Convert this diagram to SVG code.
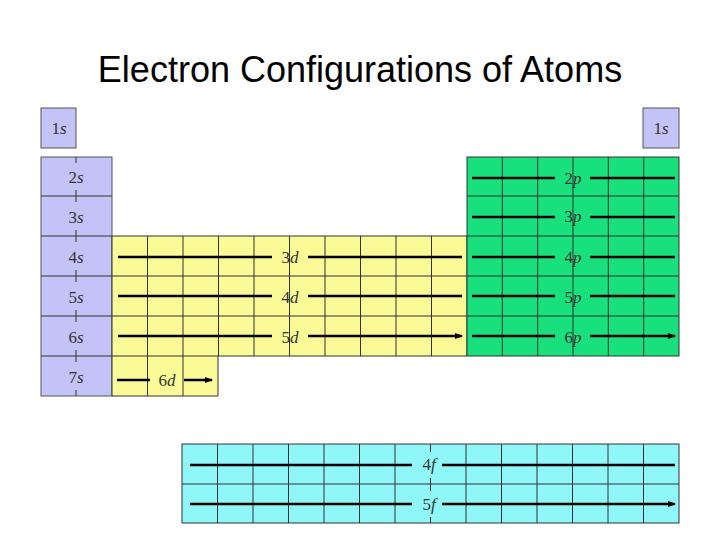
<svg xmlns="http://www.w3.org/2000/svg" width="720" height="540" viewBox="0 0 720 540">
<style>
.s{fill:#c3c3f7;stroke:#555;stroke-width:1}
.d{fill:#fafa96;stroke:#333;stroke-width:1}
.p{fill:#18e07c;stroke:#333;stroke-width:1}
.f{fill:#8ff7f7;stroke:#333;stroke-width:1}
.g{stroke:#333;stroke-width:1;fill:none}
.lb{font-family:"Liberation Serif",serif;font-size:17px;fill:#333;text-anchor:middle}
.ar{stroke:#000;stroke-width:2.5;fill:none;marker-end:url(#ah)}
.tk{stroke:#333;stroke-width:1}
</style>
<defs><marker id="ah" markerWidth="8" markerHeight="6" refX="7" refY="3" orient="auto" markerUnits="userSpaceOnUse"><path d="M0,0 L8,3 L0,6 Z" fill="#000"/></marker></defs>
<rect width="720" height="540" fill="#fff"/>
<text x="360" y="82" font-family="Liberation Sans, Arial, sans-serif" font-size="36" text-anchor="middle" fill="#000">Electron Configurations of Atoms</text>
<g id="s-block">
<rect class="s" x="41" y="108" width="35" height="40"/>
<rect class="s" x="643" y="108" width="36" height="40"/>
<rect class="s" x="41" y="157" width="71" height="239"/>
<path class="g" d="M41 196H112M41 236H112M41 276H112M41 316H112M41 356H112"/>
<path class="tk" d="M76 157v6M76 190v12M76 230v12M76 270v12M76 310v12M76 350v12M76 390v6"/>
<text class="lb" x="59" y="134">1<tspan font-style="italic">s</tspan></text>
<text class="lb" x="661" y="134">1<tspan font-style="italic">s</tspan></text>
<text class="lb" x="76" y="183">2<tspan font-style="italic">s</tspan></text>
<text class="lb" x="76" y="223">3<tspan font-style="italic">s</tspan></text>
<text class="lb" x="76" y="263">4<tspan font-style="italic">s</tspan></text>
<text class="lb" x="76" y="303">5<tspan font-style="italic">s</tspan></text>
<text class="lb" x="76" y="343">6<tspan font-style="italic">s</tspan></text>
<text class="lb" x="76" y="383">7<tspan font-style="italic">s</tspan></text>
</g>
<g id="d-block">
<path class="d" d="M112 236H467V356H218V396H112Z"/>
<path class="g" d="M112 276H467M112 316H467M112 356H218M147.5 236V396M183 236V396M218.5 236V356M254 236V356M289.5 236V356M325 236V356M360.5 236V356M396 236V356M431.5 236V356"/>
<text class="lb" x="290" y="263">3<tspan font-style="italic">d</tspan></text>
<text class="lb" x="290" y="303">4<tspan font-style="italic">d</tspan></text>
<text class="lb" x="290" y="343">5<tspan font-style="italic">d</tspan></text>
<text class="lb" x="167" y="386">6<tspan font-style="italic">d</tspan></text>
</g>
<g id="p-block">
<rect class="p" x="467" y="157" width="212" height="199"/>
<path class="g" d="M467 196H679M467 236H679M467 276H679M467 316H679M502.3 157V356M537.7 157V356M573 157V356M608.3 157V356M643.7 157V356"/>
<text class="lb" x="573" y="184">2<tspan font-style="italic">p</tspan></text>
<text class="lb" x="573" y="222">3<tspan font-style="italic">p</tspan></text>
<text class="lb" x="573" y="263">4<tspan font-style="italic">p</tspan></text>
<text class="lb" x="573" y="303">5<tspan font-style="italic">p</tspan></text>
<text class="lb" x="573" y="343">6<tspan font-style="italic">p</tspan></text>
</g>
<g id="f-block">
<rect class="f" x="182" y="444" width="497" height="79"/>
<path class="g" d="M182 484H679M217.5 444V523M253 444V523M288.5 444V523M324 444V523M359.5 444V523M395 444V523M430.5 444V523M466 444V523M501.5 444V523M537 444V523M572.5 444V523M608 444V523M643.5 444V523"/>
<rect x="420" y="452" width="20" height="26" fill="#8ff7f7"/>
<rect x="420" y="491" width="20" height="26" fill="#8ff7f7"/>
<text class="lb" x="429" y="470"><tspan>4</tspan><tspan font-style="italic">f</tspan></text>
<text class="lb" x="429" y="510"><tspan>5</tspan><tspan font-style="italic">f</tspan></text>
</g>
<g id="connectors">
<path class="ar" d="M272 257H118M308 257H462M272 296H118M308 296H462M272 336H118M308 336H462"/>
<path class="ar" d="M150 380H117M184 380H212"/>
<path class="ar" d="M555 178H472M590 178H675M555 217H472M590 217H675M555 257H472M590 257H675M555 296H472M590 296H675M555 336H472M590 336H675"/>
<path class="ar" d="M412 465H190M442 465H675M412 504H190M442 504H675"/>
</g>
</svg>
